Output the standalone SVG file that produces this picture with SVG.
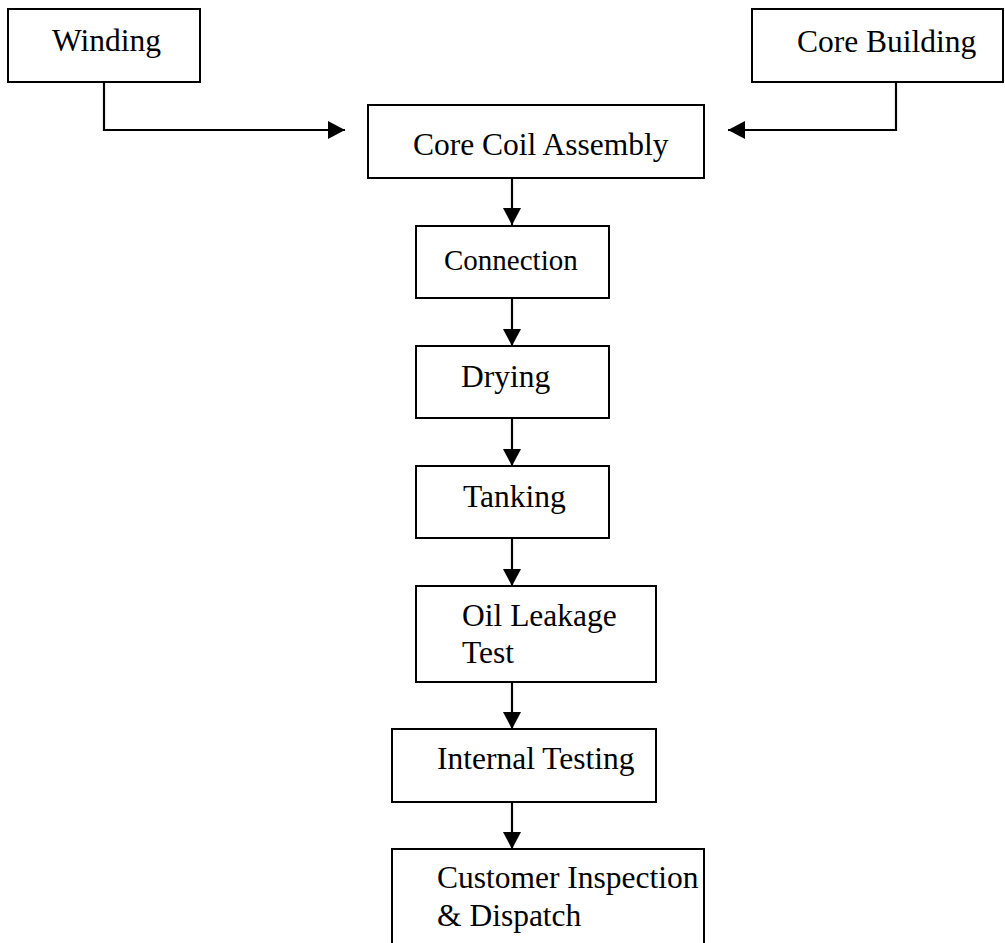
<svg xmlns="http://www.w3.org/2000/svg" width="1005" height="943" viewBox="0 0 1005 943">
<defs>
<marker id="ah" markerUnits="userSpaceOnUse" markerWidth="17" markerHeight="18" viewBox="0 0 17 18" refX="17" refY="9" orient="auto">
<path d="M0,0 L17,9 L0,18 Z" fill="#000"/>
</marker>
<style>
.box{fill:#fff;stroke:#000;stroke-width:2}
.t{font-family:"Liberation Serif","Times New Roman",serif;font-size:31.5px;fill:#000}
.s{font-size:29px}
.c{fill:none;stroke:#000;stroke-width:2.2}
</style>
</defs>
<rect width="1005" height="943" fill="#fff"/>
<g id="connectors">
<path class="c" d="M104,82 V130 H345" marker-end="url(#ah)"/>
<path class="c" d="M896,82 V130 H728" marker-end="url(#ah)"/>
<path class="c" d="M512,178 V225" marker-end="url(#ah)"/>
<path class="c" d="M512,298 V346" marker-end="url(#ah)"/>
<path class="c" d="M512,418 V466" marker-end="url(#ah)"/>
<path class="c" d="M512,538 V586" marker-end="url(#ah)"/>
<path class="c" d="M512,682 V729" marker-end="url(#ah)"/>
<path class="c" d="M512,802 V849" marker-end="url(#ah)"/>
</g>
<g id="winding"><rect class="box" x="8" y="9" width="192" height="73"/><text class="t" x="52" y="51">Winding</text></g>
<g id="core-building"><rect class="box" x="752" y="9" width="251" height="73"/><text class="t" x="797" y="52">Core Building</text></g>
<g id="core-coil-assembly"><rect class="box" x="368" y="105" width="336" height="73"/><text class="t" x="413" y="155">Core Coil Assembly</text></g>
<g id="connection"><rect class="box" x="416" y="226" width="193" height="72"/><text class="t s" x="444" y="270">Connection</text></g>
<g id="drying"><rect class="box" x="416" y="346" width="193" height="72"/><text class="t" x="461" y="387">Drying</text></g>
<g id="tanking"><rect class="box" x="416" y="466" width="193" height="72"/><text class="t" x="463" y="507">Tanking</text></g>
<g id="oil-leakage-test"><rect class="box" x="416" y="586" width="240" height="96"/><text class="t" x="462" y="626">Oil Leakage</text><text class="t" x="462" y="663">Test</text></g>
<g id="internal-testing"><rect class="box" x="392" y="729" width="264" height="73"/><text class="t" x="437" y="769">Internal Testing</text></g>
<g id="customer-inspection"><rect class="box" x="392" y="849" width="312" height="110"/><text class="t" x="437" y="888">Customer Inspection</text><text class="t" x="437" y="926">&amp; Dispatch</text></g>
</svg>
